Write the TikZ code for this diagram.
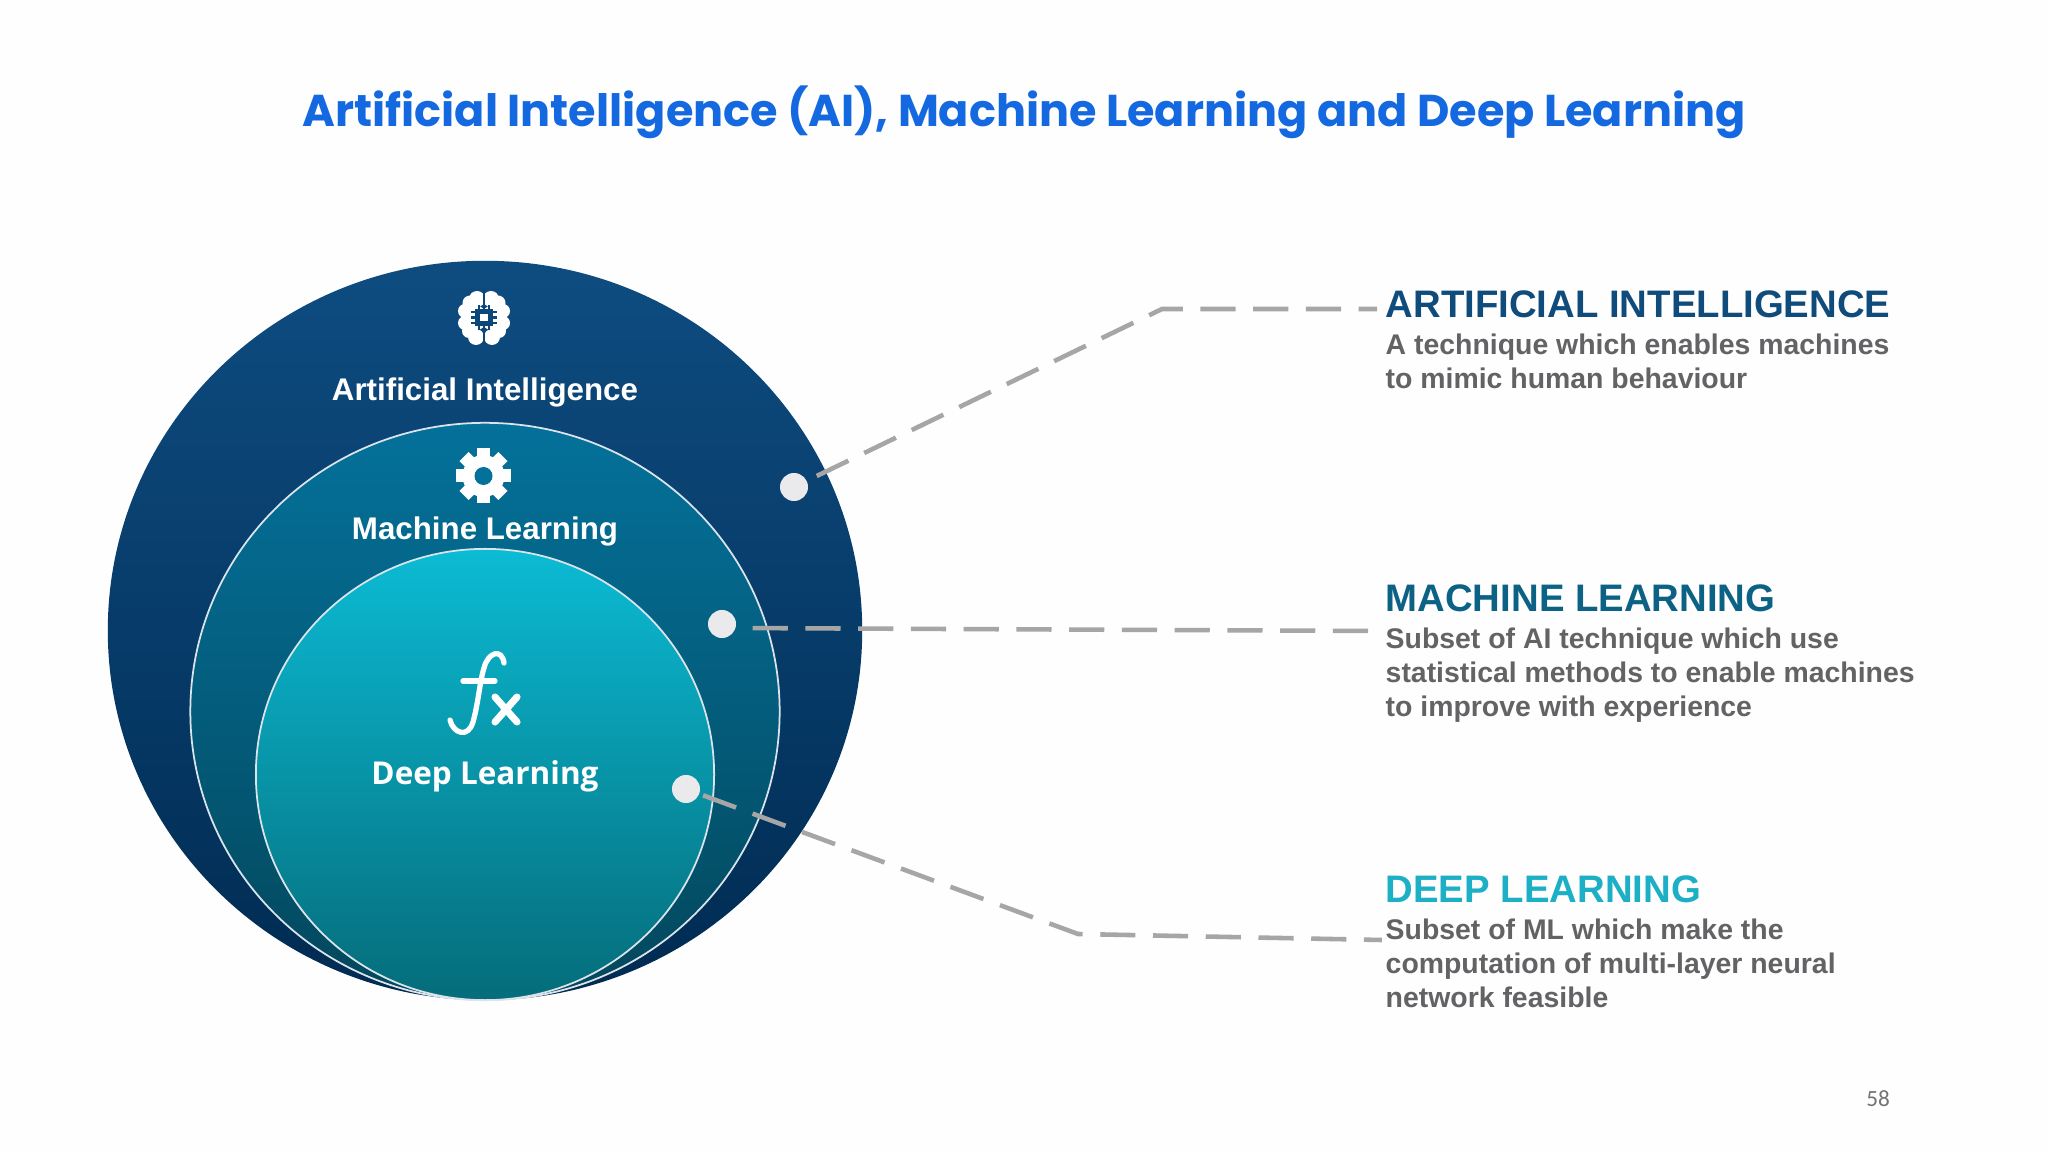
\documentclass[tikz,border=0pt]{standalone}
\usepackage{fontspec}
\setmainfont{Liberation Sans}
\newfontfamily\poppins{Poppins}
\newfontfamily\opensans{Open Sans}
\newfontfamily\carlito{Carlito}
\usetikzlibrary{shapes.geometric}
\definecolor{titleblue}{HTML}{1469E0}
\definecolor{aiblue}{HTML}{0F4C7C}
\definecolor{mlblue}{HTML}{0C6285}
\definecolor{dlcyan}{HTML}{1CAFC6}
\definecolor{aitop}{HTML}{0E4C80}
\definecolor{aibottom}{HTML}{002B52}
\definecolor{mltop}{HTML}{04719A}
\definecolor{mlbottom}{HTML}{03475C}
\definecolor{dltop}{HTML}{0BBBD4}
\definecolor{dlbottom}{HTML}{056C7A}
\definecolor{bodygray}{HTML}{636366}
\definecolor{dashgray}{HTML}{A6A6A6}
\definecolor{dotgray}{HTML}{EAEAEC}
\tikzset{
  ball/.style={ellipse, inner sep=0pt, outer sep=0pt},
  ballname/.style={text=white, font=\bfseries\fontsize{8.9}{11}\selectfont},
  marker/.style={circle, fill=dotgray, minimum size=0.28cm, inner sep=0pt},
  leader/.style={draw=dashgray, line width=1.3pt, dash pattern=on 10pt off 5pt, dash phase=10pt},
  headline/.style={anchor=west, inner sep=0pt, font=\bfseries\fontsize{10.9}{12}\selectfont},
  bodytext/.style={anchor=north west, inner sep=0pt, align=left, text=bodygray, font=\bfseries\fontsize{8.08}{9.66}\selectfont},
}
\begin{document}
\begin{tikzpicture}[x=0.01cm,y=-0.01cm]
\useasboundingbox (0,0) rectangle (2048,1152);
\fill[white!99.5!black] (0,0) rectangle (2048,1152);
\node[anchor=center, inner sep=0pt, text=titleblue, font=\poppins\bfseries\fontsize{12.67}{16}\selectfont] (title) at (1024,112) {Artificial Intelligence (AI), Machine Learning and Deep Learning};

% nested balls
\node[ball, minimum width=7.54cm, minimum height=7.39cm, top color=aitop, bottom color=aibottom] (aiball) at (485,630.5) {};
\node[ball, draw=white!85!aiblue, line width=0.5pt, minimum width=5.89cm, minimum height=5.77cm, top color=mltop, bottom color=mlbottom] (mlball) at (485,711.5) {};
\node[ball, draw=white!85!aiblue, line width=0.5pt, minimum width=4.58cm, minimum height=4.51cm, top color=dltop, bottom color=dlbottom] (dlball) at (485,774.5) {};

\node[ballname] (ainame) at (485,392.5) {Artificial Intelligence};
\node[ballname] (mlname) at (485,531.5) {Machine Learning};
\node[ballname, font=\opensans\bfseries\fontsize{8.95}{11}\selectfont] (dlname) at (485,776) {Deep Learning};

% brain icon
\foreach \s in {-1,1} {
  \begin{scope}[shift={(484,318)}, xscale=\s]
    \fill[white] (7,-19) circle (8) (14,-15) circle (7.5) (19,-7) circle (7) (19,5) circle (7) (15,13) circle (7) (8,19) circle (8) (8,0) circle (12);
  \end{scope}
}
\fill[aitop!85!aibottom] (482.7,288) rectangle (485.3,348);
\fill[aitop!85!aibottom] (475,309) rectangle (493,326);
\foreach \p in {312,317.5,323} \draw[aitop!85!aibottom, line width=0.6pt] (471,\p) -- (497,\p);
\foreach \p in {479,484,489} \draw[aitop!85!aibottom, line width=0.6pt] (\p,305) -- (\p,330);
\fill[white] (480,314) rectangle (488,321.5);

% gear icon
\foreach \a in {0,45,...,315} {
  \fill[white, rotate around={\a:(483.5,476)}] (477,448.5) rectangle (490,470);
}
\fill[white] (483.5,476) circle (21);
\fill[mltop] (483.5,476) circle (9);

% fx icon
\draw[white, line width=1.5pt, line cap=round] (450,720) .. controls (453,733) and (468,739) .. (473,722) .. controls (478,705) and (480,680) .. (484,668) .. controls (488,652) and (502,648) .. (504,663);
\draw[white, line width=1.5pt, line cap=round] (463,681) -- (495,681);
\draw[white, line width=2pt, line cap=round] (495,697) -- (517,722) (517,697) -- (495,722);

% connectors
\node[marker] (aidot) at (794,487) {};
\node[marker] (mldot) at (722,624) {};
\node[marker] (dldot) at (686,789) {};
\coordinate (aibend) at (1162,309);
\coordinate (aiend) at (1377,309);
\coordinate (mlstart) at (735,628);
\coordinate (mlend) at (1379,631);
\coordinate (dlbend) at (1078,934);
\coordinate (dlend) at (1382,940);
\draw[leader, dash phase=12pt] (aidot) -- (aibend) -- (aiend);
\draw[leader] (mlstart) -- (mlend);
\draw[leader, dash phase=14pt] (dldot) -- (dlbend) -- (dlend);

% descriptions
\node[headline, text=aiblue] (aihead) at (1385,304) {ARTIFICIAL INTELLIGENCE};
\node[bodytext] (aibody) at (1385,333) {A technique which enables machines\\to mimic human behaviour};
\node[headline, text=mlblue] (mlhead) at (1385,598) {MACHINE LEARNING};
\node[bodytext] (mlbody) at (1385,627) {Subset of AI technique which use\\statistical methods to enable machines\\to improve with experience};
\node[headline, text=dlcyan] (dlhead) at (1385,889) {DEEP LEARNING};
\node[bodytext] (dlbody) at (1385,918) {Subset of ML which make the\\computation of multi-layer neural\\network feasible};

\node[inner sep=0pt, text=black!55, font=\carlito\fontsize{6.6}{8}\selectfont] (pagenum) at (1878,1099) {58};
\end{tikzpicture}
\end{document}
